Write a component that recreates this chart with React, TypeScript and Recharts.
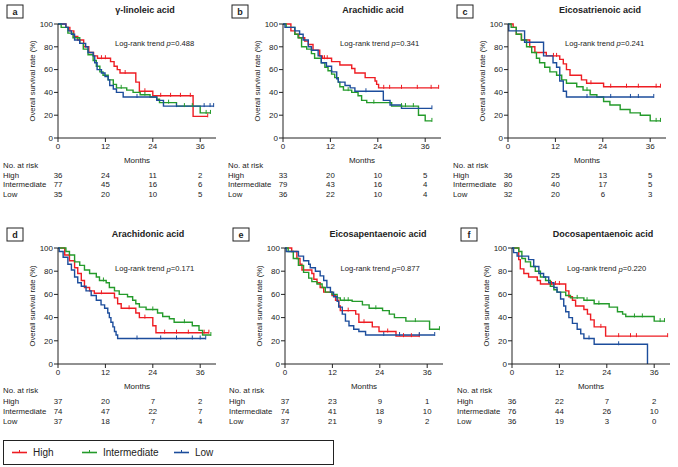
import React from "react";
import { LineChart, Line, XAxis, YAxis } from "recharts";

const RED = "#ee1d23";
const GREEN = "#249b2b";
const BLUE = "#1c4d9c";
const INK = "#222";
const FONT = "'Liberation Sans', Arial, Helvetica, sans-serif";

const X_TICKS = [0, 12, 24, 36];
const Y_TICKS = [0, 20, 40, 60, 80, 100];
const GROUPS = ["High", "Intermediate", "Low"];

// [month, survival %, 1 = censored tick]
const aHigh = [[0,100],[2,97],[3,94],[4,89],[5,86],[6.5,80],[7.8,75],[9,72],[10,70],[11,70,1],[12,70,1],[13.3,67],[14.2,63],[15,60],[15.7,57],[17,57,1],[19.7,49],[20.6,41],[22,41,1],[24,37],[26,37,1],[28.5,37,1],[31,37,1],[33.5,37,1],[34.2,19],[37.9,19,1]];
const aInt = [[0,100],[0.8,97],[2.5,92],[3.8,88],[5.5,83],[6.4,78],[7.6,73],[8.9,68],[9.7,63],[10.6,58],[11.4,55],[12.7,51],[14,47],[14.8,44],[16,44,1],[17.4,42],[19,40],[20.8,38],[22,38,1],[23.3,36],[25,34],[25.7,31],[28,31,1],[30,28],[32,28,1],[34,28,1],[36,22],[37.5,22,1],[38.6,22,1]];
const aLow = [[0,100],[2,97],[2.6,94],[3.4,91],[4.2,86],[5.5,83],[7,80],[7.6,75],[8.9,72],[9.3,66],[9.9,60],[11,57],[11.9,54],[12.7,51],[13.1,46],[14,43],[14.8,40],[16.5,36],[20,36,1],[25,33],[26.7,28],[30,28,1],[37,28,1],[38.5,28,1],[39.4,28,1]];

const bHigh = [[0,100],[2,94],[3,91],[4,88],[5.5,85],[6.4,82],[7.6,77],[9.3,72],[10,70],[10.5,70,1],[11.2,70,1],[12.3,67],[14.4,64],[17.4,61],[18.2,57],[20.8,53],[23.3,50],[23.7,47],[24.2,44],[25.5,44,1],[27,44,1],[30,44,1],[34,44,1],[37.5,44,1],[39.4,44,1]];
const bInt = [[0,100],[0.8,97],[3,91],[3.8,88],[4.7,80],[6,78],[7.2,74],[8,70],[9.7,66],[10.6,62],[11.4,59],[12.3,56],[13.1,53],[14,49],[14.4,45],[15.3,42],[16.5,42,1],[17.4,40],[19,37],[19.9,33],[21.2,31],[23,31,1],[27.5,28],[30,28,1],[31,28,1],[33,28,1],[34.3,20],[36,15],[37.7,15,1]];
const bLow = [[0,100],[0.5,97],[3,94],[4.2,91],[5.1,86],[6.4,80],[7.2,77],[8.9,72],[9.7,66],[11,63],[12.3,58],[13.6,52],[14,49],[15.7,46],[17,44],[18.2,41],[21,41,1],[25.4,33],[27.1,29],[30,26],[37.7,26,1]];

const cHigh = [[0,100],[1.3,97],[2.1,91],[3.4,86],[5.5,80],[6.8,75],[9.7,72],[11.5,72,1],[12.3,72,1],[13.1,69],[14,65],[14.8,60],[15.7,55],[18.6,51],[19.9,48],[21,48,1],[24.2,45],[26,45,1],[30,45,1],[33,45,1],[37.5,45,1],[38.6,45,1]];
const cInt = [[0,100],[0.8,97],[2.1,91],[3.4,86],[4.7,80],[6,75],[7.2,70],[8,66],[9.3,62],[10.6,58],[12.3,55],[13.6,51],[14.8,48],[17.4,45],[19,42],[20,42,1],[20.8,38],[22.5,36],[24.2,32],[25.8,29],[28.4,25],[30.9,22],[33.5,20],[36,15],[37.5,15,1],[38.6,15,1]];
const cLow = [[0,100],[0.2,94],[4.2,84],[9,72],[11.4,66],[12.3,62],[13.1,50],[14,41],[14.8,36],[20,36,1],[26,36,1],[31,36,1],[33,36,1],[36.9,36,1]];

const dHigh = [[0,100],[1.7,94],[2.9,89],[4.2,83],[5,78],[5.9,72],[6.7,66],[8,63],[9.2,61],[11,61,1],[14.3,57],[15.1,52],[16,48],[18,48,1],[19.7,44],[20.6,40],[22,40,1],[24,33],[24.8,27],[27,27,1],[30,27,1],[33,27,1],[37,27,1],[38.2,27,1]];
const dInt = [[0,100],[2,97],[2.9,94],[4.2,88],[5.5,85],[6.7,81],[8,78],[9.7,75],[10.5,72],[11.5,72,1],[12.2,70],[13,66],[14.3,63],[15.5,60],[17.6,58],[18.9,55],[19.7,52],[20.6,49],[22.3,47],[24,47,1],[25.2,44],[26.5,41],[28.2,39],[29.4,36],[32,36,1],[34,33],[35.7,29],[36.6,25],[38.7,25,1]];
const dLow = [[0,100],[0.3,97],[1.3,92],[2.5,86],[3.4,81],[4.2,75],[5,70],[5.9,67],[7.1,63],[8.4,59],[9.7,55],[10.9,51],[11.8,48],[12.6,44],[13,40],[13.4,36],[13.9,32],[14.3,28],[14.7,25],[15.1,22],[20,22,1],[26,22,1],[30,22,1],[34,22,1],[36,22,1],[37.4,22,1]];

const eHigh = [[0,100],[1.7,97],[3,91],[3.8,86],[4.3,81],[6.8,78],[7.3,73],[8.1,70],[8.9,66],[9.8,62],[11.9,59],[12.8,55],[13.6,50],[14,46],[16,46,1],[17.9,43],[18.7,36],[20,36,1],[22.1,32],[23.8,28],[26,28,1],[28.1,24],[30,24,1],[32,24,1],[34,24,1]];
const eInt = [[0,100],[0.8,97],[2.1,91],[3.4,85],[4.7,79],[6,74],[6.8,71],[8.1,69],[9.4,66],[10.2,62],[11.9,60],[13.2,57],[14,55],[15,55,1],[16,55,1],[17,54],[19.6,51],[21.3,48],[23,48,1],[24.7,46],[26.4,43],[27.7,40],[30.6,37],[33,37,1],[36.6,30],[39.1,30,1]];
const eLow = [[0,100],[0.3,97],[3.4,93],[4.7,89],[6,86],[6.4,83],[7.7,80],[8.9,76],[9.8,72],[10.6,66],[11.5,62],[12.3,58],[13.2,54],[13.6,49],[14.5,43],[15.3,37],[16.2,33],[17.4,30],[18.7,28],[20.4,25],[25,25,1],[29,25,1],[34,25,1],[37.9,25,1]];

const fHigh = [[0,100],[1.7,90],[2.1,82],[3,78],[4.2,75],[6.4,72],[7.2,69],[10,69,1],[11,69,1],[12,69,1],[13.6,63],[14.4,58],[15.3,55],[16.1,50],[18.2,47],[19.1,43],[19.9,38],[20.8,32],[22.5,32,1],[23.7,24],[27,24,1],[30,24,1],[31.5,24,1],[39.4,24,1]];
const fInt = [[0,100],[1.7,97],[2.5,91],[3.4,88],[4.7,84],[5.9,80],[7.2,75],[8.5,72],[9.7,67],[10.6,64],[11.4,62],[13.6,59],[14.8,57],[16.5,57,1],[18.2,55],[19,55,1],[20.8,52],[22,52,1],[24.6,49],[26.7,45],[28,43],[28.8,41],[31,41,1],[33,41,1],[36,37],[37.5,37,1],[38.6,37,1]];
const fLow = [[0,100],[0.4,96],[1.3,93],[4.2,90],[5.5,84],[6.8,78],[8,75],[9.3,70],[10.6,66],[11.4,62],[12.3,56],[13.1,50],[13.6,45],[14.4,40],[15.3,35],[16.5,30],[17.4,26],[18.2,22],[19.5,22,1],[20.8,17],[27,17,1],[34.3,0]];

// numbers at risk at 0 / 12 / 24 / 36 months: High, Intermediate, Low
const aRisk = [[36,24,11,2],[77,45,16,6],[35,20,10,5]];
const bRisk = [[33,20,10,5],[79,43,16,4],[36,22,10,4]];
const cRisk = [[36,25,13,5],[80,40,17,5],[32,20,6,3]];
const dRisk = [[37,20,7,2],[74,47,22,7],[37,18,7,4]];
const eRisk = [[37,23,9,1],[74,41,18,10],[37,21,9,2]];
const fRisk = [[36,22,7,2],[76,44,26,10],[36,19,3,0]];

const ROWS = [
  { top: 0, plotTop: 24, plotH: 114, titleY: 10, boxY: 5, logY: 43, nar: 165, riskY: [175, 184.5, 194] },
  { top: 224, plotTop: 24, plotH: 116, titleY: 9.5, boxY: 4, logY: 44.5, nar: 166, riskY: [177, 187, 197] },
];

const PANELS = [
  { id: "a", row: 0, left: 0, plotLeft: 58, title: "γ-linoleic acid", titleX: 145, p: "0.488", series: [aHigh, aInt, aLow], risk: aRisk, dx: 0 },
  { id: "b", row: 0, left: 225, plotLeft: 58, title: "Arachidic acid", titleX: 148, p: "0.341", series: [bHigh, bInt, bLow], risk: bRisk, dx: 0 },
  { id: "c", row: 0, left: 450, plotLeft: 58, title: "Eicosatrienoic acid", titleX: 150, p: "0.241", series: [cHigh, cInt, cLow], risk: cRisk, dx: 0 },
  { id: "d", row: 1, left: 0, plotLeft: 58, title: "Arachidonic acid", titleX: 148, p: "0.171", series: [dHigh, dInt, dLow], risk: dRisk, dx: 0 },
  { id: "e", row: 1, left: 225, plotLeft: 60, title: "Eicosapentaenoic acid", titleX: 153, p: "0.877", series: [eHigh, eInt, eLow], risk: eRisk, dx: 1 },
  { id: "f", row: 1, left: 450, plotLeft: 62, title: "Docosapentaenoic acid", titleX: 153, p: "0.220", series: [fHigh, fInt, fLow], risk: fRisk, dx: 4 },
];

const COLORS = [RED, GREEN, BLUE];
const CHART_W = 226;
const PLOT_W = 158;

const toRows = (pts: number[][]) => pts.map(([t, s, c]) => ({ t, s, c: c === 1 }));

const censorDot = (color: string) => (props: any) => {
  const { cx, cy, payload, index } = props;
  if (!payload || !payload.c || cx == null) return <g key={`n${index}`} />;
  return <line key={`c${index}`} x1={cx} x2={cx} y1={cy - 3} y2={cy + 1} stroke={color} strokeWidth={1} />;
};

function Panel({ cfg }: { cfg: any }) {
  const row = ROWS[cfg.row];
  const height = row.plotTop + row.plotH + 26 + 44;
  const riskTick = (props: any) => {
    const i = X_TICKS.indexOf(props.payload.value);
    return (
      <g>
        {cfg.risk.map((r: number[], k: number) => (
          <text key={k} x={props.x} y={row.riskY[k]} textAnchor="middle" dominantBaseline="central" fontSize={7.8} fill={INK} fontFamily={FONT}>
            {r[i]}
          </text>
        ))}
      </g>
    );
  };
  return (
    <div style={{ position: "absolute", left: cfg.left, top: row.top }}>
      <LineChart
        width={CHART_W}
        height={height}
        margin={{ top: row.plotTop, right: CHART_W - cfg.plotLeft - PLOT_W, left: cfg.plotLeft - 30, bottom: 0 }}
      >
        <XAxis
          dataKey="t"
          type="number"
          domain={[0, 40]}
          ticks={X_TICKS}
          allowDataOverflow
          height={26}
          tickSize={4}
          tickMargin={1}
          stroke={INK}
          tick={{ fontSize: 8, fill: INK, fontFamily: FONT }}
          label={{ value: "Months", position: "insideBottom", offset: 1, fontSize: 8, fill: INK, fontFamily: FONT }}
        />
        <XAxis
          xAxisId="risk"
          dataKey="t"
          type="number"
          domain={[0, 40]}
          ticks={X_TICKS}
          allowDataOverflow
          height={44}
          axisLine={false}
          tickLine={false}
          tick={riskTick}
        />
        <YAxis
          type="number"
          domain={[0, 100]}
          ticks={Y_TICKS}
          width={30}
          tickSize={4}
          tickMargin={1}
          stroke={INK}
          tick={{ fontSize: 8, fill: INK, fontFamily: FONT }}
        />
        {cfg.series.map((s: number[][], k: number) => (
          <Line
            key={k}
            data={toRows(s)}
            dataKey="s"
            type="stepAfter"
            stroke={COLORS[k]}
            strokeWidth={1.4}
            dot={censorDot(COLORS[k])}
            activeDot={false}
            isAnimationActive={false}
          />
        ))}
      </LineChart>
    </div>
  );
}

function Overlay() {
  return (
    <svg width={678} height={467} style={{ position: "absolute", left: 0, top: 0, pointerEvents: "none" }} fontFamily={FONT}>
      {PANELS.map((cfg) => {
        const row = ROWS[cfg.row];
        const x0 = cfg.left;
        const y0 = row.top;
        const ylx = x0 + cfg.plotLeft - 26;
        const yly = y0 + row.plotTop + row.plotH / 2;
        return (
          <g key={cfg.id}>
            <rect x={x0 + 7 + cfg.dx} y={y0 + row.boxY} width={16} height={13} fill="none" stroke={INK} strokeWidth={1} />
            <text x={x0 + 15 + cfg.dx} y={y0 + row.boxY + 6.5} textAnchor="middle" dominantBaseline="central" fontSize={9} fontWeight="bold" fill={INK}>
              {cfg.id}
            </text>
            <text x={x0 + cfg.titleX} y={y0 + row.titleY} textAnchor="middle" dominantBaseline="central" fontSize={9} fontWeight="bold" fill={INK}>
              {cfg.title}
            </text>
            <text x={x0 + 115 + cfg.dx / 2} y={y0 + row.logY} dominantBaseline="central" fontSize={7.6} fill={INK}>
              Log-rank trend <tspan fontStyle="italic">p</tspan>={cfg.p}
            </text>
            <text x={ylx} y={yly} transform={`rotate(-90 ${ylx} ${yly})`} textAnchor="middle" dominantBaseline="central" fontSize={7.6} fill={INK}>
              Overall survival rate (%)
            </text>
            <text x={x0 + 3 + cfg.dx} y={y0 + row.nar} dominantBaseline="central" fontSize={7.8} fill={INK}>
              No. at risk
            </text>
            {GROUPS.map((g, k) => (
              <text key={g} x={x0 + 3 + cfg.dx} y={y0 + row.riskY[k]} dominantBaseline="central" fontSize={7.8} fill={INK}>
                {g}
              </text>
            ))}
          </g>
        );
      })}
      <rect x={3.5} y={440.5} width={330} height={24} fill="none" stroke={INK} strokeWidth={1} />
      {GROUPS.map((g, k) => {
        const lx = [12, 82, 174][k];
        return (
          <g key={g}>
            <line x1={lx} x2={lx + 15} y1={452.5} y2={452.5} stroke={COLORS[k]} strokeWidth={1.6} />
            <line x1={lx + 7.5} x2={lx + 7.5} y1={450} y2={452.5} stroke={COLORS[k]} strokeWidth={1} />
            <text x={lx + 21} y={452.5} dominantBaseline="central" fontSize={10} fill={INK}>
              {g}
            </text>
          </g>
        );
      })}
    </svg>
  );
}

export default function App() {
  return (
    <div style={{ position: "absolute", left: 0, top: 0, width: 678, height: 467, background: "#fff", fontFamily: FONT }}>
      {PANELS.map((cfg) => (
        <Panel key={cfg.id} cfg={cfg} />
      ))}
      <Overlay />
    </div>
  );
}
